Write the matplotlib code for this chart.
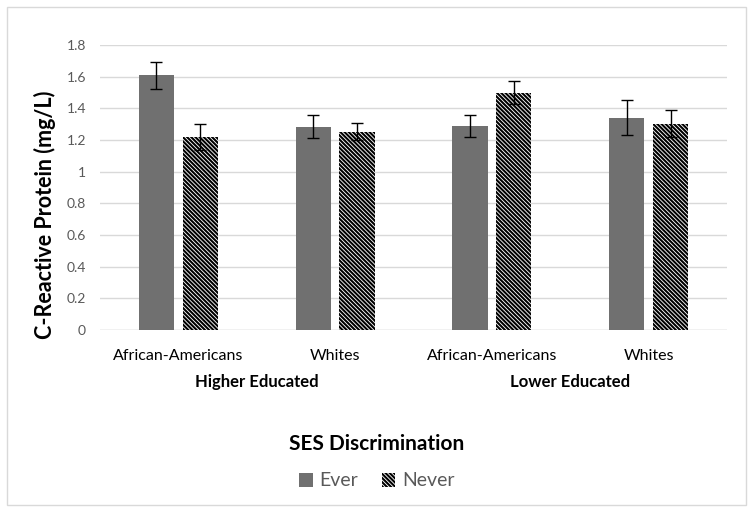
import matplotlib
matplotlib.use("Agg")
import matplotlib.pyplot as plt
import numpy as np
from matplotlib.patches import Rectangle, Patch

plt.rcParams['font.family'] = ['Lato', 'DejaVu Sans']
plt.rcParams['hatch.linewidth'] = 1.5

categories = ["African-Americans", "Whites", "African-Americans", "Whites"]
groups = ["Higher Educated", "Lower Educated"]
ever = [1.61, 1.28, 1.29, 1.34]
never = [1.22, 1.25, 1.50, 1.30]
ever_err_lo = [0.09, 0.07, 0.07, 0.11]
ever_err_hi = [0.08, 0.08, 0.07, 0.11]
never_err_lo = [0.08, 0.05, 0.07, 0.08]
never_err_hi = [0.08, 0.06, 0.07, 0.09]
yticks = [0, 0.2, 0.4, 0.6, 0.8, 1.0, 1.2, 1.4, 1.6, 1.8]
ytick_labels = ["0", "0.2", "0.4", "0.6", "0.8", "1", "1.2", "1.4", "1.6", "1.8"]

HATCH = "\\" * 8

fig = plt.figure(figsize=(7.54, 5.12), dpi=100)
fig.patches.append(Rectangle((7/754, 7/512), 739/754, 498/512, transform=fig.transFigure,
                             fill=False, edgecolor="#d9d9d9", linewidth=1.0))
ax = fig.add_axes([100/754, (512-330)/512, 627/754, 285/512])

x = np.arange(len(categories))
w = 0.225
off = 0.14
ax.bar(x - off, ever, w, color="#707070", edgecolor="#707070", linewidth=0, zorder=3)
ax.bar(x + off, never, w, color="white", edgecolor="black", hatch=HATCH, linewidth=0, zorder=3)
ax.errorbar(x - off, ever, yerr=[ever_err_lo, ever_err_hi], fmt="none", ecolor="black",
            elinewidth=1.0, capsize=4, capthick=1.0, zorder=4)
ax.errorbar(x + off, never, yerr=[never_err_lo, never_err_hi], fmt="none", ecolor="black",
            elinewidth=1.0, capsize=4, capthick=1.0, zorder=4)

ax.set_xlim(-0.5, len(categories) - 0.5)
ax.set_ylim(0, 1.8)
ax.set_yticks(yticks)
ax.set_yticklabels(ytick_labels, color="#595959", fontsize=10)
ax.set_xticks(x)
ax.set_xticklabels(categories, fontsize=11.5, color="black")
ax.tick_params(axis="x", length=0, pad=14)
ax.tick_params(axis="y", length=0, pad=10)
ax.yaxis.grid(True, color="#d9d9d9", linewidth=1.0, zorder=0)
for s in ax.spines.values():
    s.set_visible(False)
ax.axhline(0, color="#d9d9d9", linewidth=1.0, zorder=2)

fig.text(45/754, (512-215)/512, "C-Reactive Protein (mg/L)", rotation=90, ha="center",
         va="center", fontsize=15.5, fontweight="bold")

for gi, g in enumerate(groups):
    xc = gi * 2 + 0.5
    ax.annotate(g, xy=(xc, 0), xycoords=("data", "axes fraction"), xytext=(0, -37.5),
                textcoords="offset points", ha="center", va="center",
                fontsize=12, fontweight="bold")

fig.text(0.5, (512-444)/512, "SES Discrimination", ha="center", va="center",
         fontsize=15, fontweight="bold")
handles = [Patch(facecolor="#707070", edgecolor="#707070", linewidth=0),
           Patch(facecolor="white", edgecolor="black", hatch=HATCH, linewidth=0)]
leg = fig.legend(handles, ["Ever", "Never"], loc="center", bbox_to_anchor=(0.5, (512-481)/512),
                 ncol=2, frameon=False, fontsize=14, handlelength=0.7, handleheight=0.7,
                 handletextpad=0.35, columnspacing=1.2)
for t in leg.get_texts():
    t.set_color("#595959")

fig.savefig("out.png", dpi=100)
